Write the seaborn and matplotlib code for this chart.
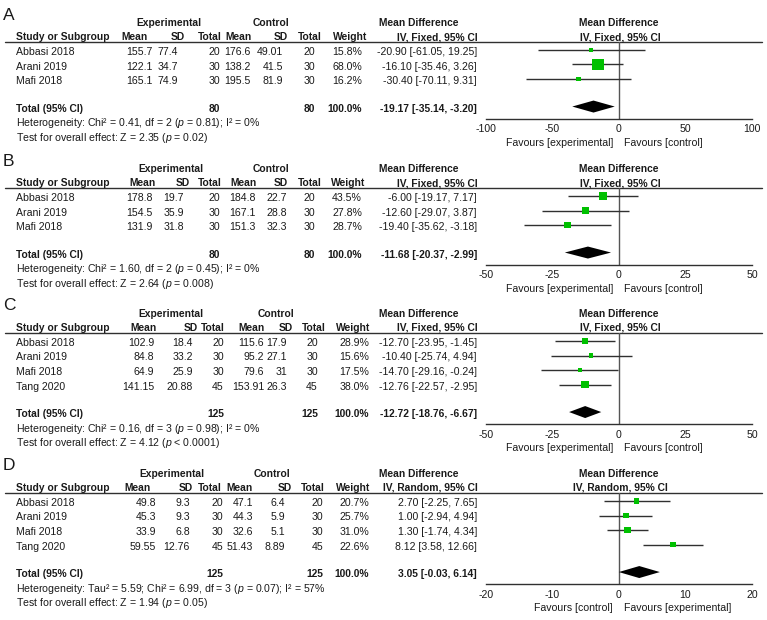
import matplotlib
matplotlib.use("Agg")
import matplotlib.pyplot as plt
import seaborn as sns
import pandas as pd

sns.set_style("white")
plt.rcParams["font.family"] = ["Liberation Sans", "DejaVu Sans"]
plt.rcParams["mathtext.fontset"] = "custom"
plt.rcParams["mathtext.rm"] = "Liberation Sans"
plt.rcParams["mathtext.it"] = "Liberation Sans:italic"
plt.rcParams["mathtext.bf"] = "Liberation Sans:bold"

# ---------------- data ----------------
studies3 = ["Abbasi 2018", "Arani 2019", "Mafi 2018"]
studies4 = ["Abbasi 2018", "Arani 2019", "Mafi 2018", "Tang 2020"]

# Panel A
a_exp_mean = ["155.7", "122.1", "165.1"]
a_exp_sd = ["77.4", "34.7", "74.9"]
a_exp_n = ["20", "30", "30"]
a_ctl_mean = ["176.6", "138.2", "195.5"]
a_ctl_sd = ["49.01", "41.5", "81.9"]
a_ctl_n = ["20", "30", "30"]
a_weight = [15.8, 68.0, 16.2]
a_md = [-20.90, -16.10, -30.40]
a_lo = [-61.05, -35.46, -70.11]
a_hi = [19.25, 3.26, 9.31]
a_total = ["80", "80"]
a_total_ci = [-19.17, -35.14, -3.20]
a_het = "Heterogeneity: Chi² = 0.41, df = 2 ($p$ = 0.81); I² = 0%"
a_test = "Test for overall effect: Z = 2.35 ($p$ = 0.02)"
a_ticks = [-100, -50, 0, 50, 100]

# Panel B
b_exp_mean = ["178.8", "154.5", "131.9"]
b_exp_sd = ["19.7", "35.9", "31.8"]
b_exp_n = ["20", "30", "30"]
b_ctl_mean = ["184.8", "167.1", "151.3"]
b_ctl_sd = ["22.7", "28.8", "32.3"]
b_ctl_n = ["20", "30", "30"]
b_weight = [43.5, 27.8, 28.7]
b_md = [-6.00, -12.60, -19.40]
b_lo = [-19.17, -29.07, -35.62]
b_hi = [7.17, 3.87, -3.18]
b_total = ["80", "80"]
b_total_ci = [-11.68, -20.37, -2.99]
b_het = "Heterogeneity: Chi² = 1.60, df = 2 ($p$ = 0.45); I² = 0%"
b_test = "Test for overall effect: Z = 2.64 ($p$ = 0.008)"
b_ticks = [-50, -25, 0, 25, 50]

# Panel C
c_exp_mean = ["102.9", "84.8", "64.9", "141.15"]
c_exp_sd = ["18.4", "33.2", "25.9", "20.88"]
c_exp_n = ["20", "30", "30", "45"]
c_ctl_mean = ["115.6", "95.2", "79.6", "153.91"]
c_ctl_sd = ["17.9", "27.1", "31", "26.3"]
c_ctl_n = ["20", "30", "30", "45"]
c_weight = [28.9, 15.6, 17.5, 38.0]
c_md = [-12.70, -10.40, -14.70, -12.76]
c_lo = [-23.95, -25.74, -29.16, -22.57]
c_hi = [-1.45, 4.94, -0.24, -2.95]
c_total = ["125", "125"]
c_total_ci = [-12.72, -18.76, -6.67]
c_het = "Heterogeneity: Chi² = 0.16, df = 3 ($p$ = 0.98); I² = 0%"
c_test = "Test for overall effect: Z = 4.12 ($p$ < 0.0001)"
c_ticks = [-50, -25, 0, 25, 50]

# Panel D
d_exp_mean = ["49.8", "45.3", "33.9", "59.55"]
d_exp_sd = ["9.3", "9.3", "6.8", "12.76"]
d_exp_n = ["20", "30", "30", "45"]
d_ctl_mean = ["47.1", "44.3", "32.6", "51.43"]
d_ctl_sd = ["6.4", "5.9", "5.1", "8.89"]
d_ctl_n = ["20", "30", "30", "45"]
d_weight = [20.7, 25.7, 31.0, 22.6]
d_md = [2.70, 1.00, 1.30, 8.12]
d_lo = [-2.25, -2.94, -1.74, 3.58]
d_hi = [7.65, 4.94, 4.34, 12.66]
d_total = ["125", "125"]
d_total_ci = [3.05, -0.03, 6.14]
d_het = "Heterogeneity: Tau² = 5.59; Chi² = 6.99, df = 3 ($p$ = 0.07); I² = 57%"
d_test = "Test for overall effect: Z = 1.94 ($p$ = 0.05)"
d_ticks = [-20, -10, 0, 10, 20]

col_headers = ["Mean", "SD", "Total", "Mean", "SD", "Total", "Weight"]

# ---------------- style / layout ----------------
W, H = 767, 620
FS = 7.6
FSB = 7.4
TXT = "#1a1a1a"
LINE = "#303030"
ZERO = "#555555"
GREEN = "#00c000"
P = 14.5
AX_L, AX_R = 486, 752

fig = plt.figure(figsize=(W / 100, H / 100), dpi=100)
tax = fig.add_axes([0, 0, 1, 1])
tax.set_xlim(0, W)
tax.set_ylim(H, 0)
tax.axis("off")


def t(x, y, s, ha="left", bold=False, size=None):
    if size is None:
        size = FSB if bold else FS
    tax.text(x, y, s, ha=ha, va="center", fontsize=size, color=TXT,
             fontweight="bold" if bold else "normal")


def panel(letter, row0, studies, cols, weight, md, lo, hi, total, total_ci,
          het, test, ticks, method, fav, layout):
    hdr_r, val_r, exp_c, ctl_c = layout
    n = len(studies)
    t0 = row0 + 2  # text centre of first study row
    ty = t0 + (n + 0.9) * P  # total row text centre
    axis_px = ty + 10

    t(3, t0 - 37, letter, size=12.5)
    t(exp_c, t0 - 29, "Experimental", ha="center", bold=True)
    t(ctl_c, t0 - 29, "Control", ha="center", bold=True)
    t(379, t0 - 29, "Mean Difference", bold=True)
    t(16, t0 - 15, "Study or Subgroup", bold=True)
    for x, h in zip(hdr_r, col_headers):
        t(x, t0 - 15, h, ha="right", bold=True)
    t(478, t0 - 15, method, ha="right", bold=True)
    tax.plot([5, 762], [t0 - 10, t0 - 10], color=LINE, lw=1.0)

    for i, s in enumerate(studies):
        y = t0 + i * P
        t(16, y, s)
        for x, col in zip(val_r[:6], cols):
            t(x, y, col[i], ha="right")
        t(val_r[6], y, f"{weight[i]:.1f}%", ha="right")
        t(477, y, f"{md[i]:.2f} [{lo[i]:.2f}, {hi[i]:.2f}]", ha="right")

    t(16, ty, "Total (95% CI)", bold=True)
    t(val_r[2], ty, total[0], ha="right", bold=True)
    t(val_r[5], ty, total[1], ha="right", bold=True)
    t(val_r[6], ty, f"{sum(weight):.1f}%", ha="right", bold=True)
    t(477, ty, f"{total_ci[0]:.2f} [{total_ci[1]:.2f}, {total_ci[2]:.2f}]",
      ha="right", bold=True)
    t(16, ty + P, het)
    t(16, ty + 2 * P, test)

    # forest axes
    R = max(ticks)
    top_px = t0 - 10
    ax = fig.add_axes([AX_L / W, 1 - axis_px / H, (AX_R - AX_L) / W,
                       (axis_px - top_px) / H])
    ax.patch.set_alpha(0)
    ax.set_xlim(-R, R)
    ax.set_ylim((axis_px - row0) / P, (top_px - row0) / P)
    df = pd.DataFrame({"md": md, "lo": lo, "hi": hi, "w": weight,
                       "row": list(range(n))})
    ax.hlines(df["row"], df["lo"], df["hi"], color=LINE, lw=1.0, zorder=2)
    side_pt = (2 + 0.147 * df["w"]) * 0.72
    sns.scatterplot(data=df, x="md", y="row", marker="s", color=GREEN,
                    s=list(side_pt ** 2), linewidth=0, ax=ax, legend=False,
                    zorder=3)
    ax.axvline(0, color=ZERO, lw=1.0, zorder=1)
    m, l, h = total_ci
    yt = n + 0.9
    dh = 6 / P
    ax.fill([l, m, h, m], [yt, yt - dh, yt, yt + dh], color="black", lw=0,
            zorder=3)
    for s in ["top", "left", "right"]:
        ax.spines[s].set_visible(False)
    ax.spines["bottom"].set_color(LINE)
    ax.spines["bottom"].set_linewidth(1.0)
    ax.set_xticks(ticks)
    ax.set_xticklabels([str(v) for v in ticks])
    ax.set_yticks([])
    ax.set_xlabel("")
    ax.set_ylabel("")
    ax.tick_params(axis="x", direction="inout", length=5, width=1.0,
                   color=LINE, labelsize=FS, labelcolor=TXT, pad=1.5)

    zero_px = AX_L + (AX_R - AX_L) / 2
    t(zero_px, t0 - 29, "Mean Difference", ha="center", bold=True)
    t(zero_px + 1, t0 - 15, method, ha="center", bold=True)
    t(zero_px - 6, axis_px + 24, fav[0], ha="right")
    t(zero_px + 5, axis_px + 24, fav[1], ha="left")


FAV_EC = ("Favours [experimental]", "Favours [control]")
FAV_CE = ("Favours [control]", "Favours [experimental]")

panel("A", 50, studies3,
      [a_exp_mean, a_exp_sd, a_exp_n, a_ctl_mean, a_ctl_sd, a_ctl_n],
      a_weight, a_md, a_lo, a_hi, a_total, a_total_ci, a_het, a_test,
      a_ticks, "IV, Fixed, 95% CI", FAV_EC,
      ([148, 185, 222, 252, 288, 322, 367],
       [153, 178, 220, 251, 283, 315, 362], 169, 271))
panel("B", 196, studies3,
      [b_exp_mean, b_exp_sd, b_exp_n, b_ctl_mean, b_ctl_sd, b_ctl_n],
      b_weight, b_md, b_lo, b_hi, b_total, b_total_ci, b_het, b_test,
      b_ticks, "IV, Fixed, 95% CI", FAV_EC,
      ([156, 190, 222, 257, 288, 322, 365],
       [153, 184, 220, 256, 287, 315, 362], 171, 271))
panel("C", 341, studies4,
      [c_exp_mean, c_exp_sd, c_exp_n, c_ctl_mean, c_ctl_sd, c_ctl_n],
      c_weight, c_md, c_lo, c_hi, c_total, c_total_ci, c_het, c_test,
      c_ticks, "IV, Fixed, 95% CI", FAV_EC,
      ([157, 198, 225, 265, 293, 326, 370],
       [154, 193, 224, 264, 287, 318, 369], 171, 276))
panel("D", 501, studies4,
      [d_exp_mean, d_exp_sd, d_exp_n, d_ctl_mean, d_ctl_sd, d_ctl_n],
      d_weight, d_md, d_lo, d_hi, d_total, d_total_ci, d_het, d_test,
      d_ticks, "IV, Random, 95% CI", FAV_CE,
      ([151, 193, 222, 253, 292, 325, 370],
       [156, 190, 223, 253, 285, 323, 369], 172, 272))

fig.savefig("out.png", dpi=100)
